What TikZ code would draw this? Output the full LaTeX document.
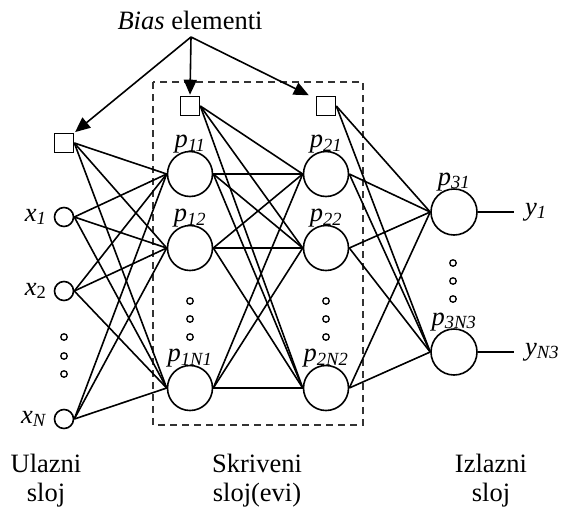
\documentclass[tikz,border=0pt]{standalone}
\usepackage{fontspec}
\setmainfont{Liberation Serif}
\usetikzlibrary{positioning,arrows.meta}

\newcommand{\lbl}[2]{\textit{#1}\textsubscript{\textit{#2}}}

\begin{document}
\begin{tikzpicture}[x=1pt,y=-1pt,
  every node/.style={font=\fontsize{26.5}{29}\selectfont},
  neuron/.style={draw,circle,line width=1.6pt,minimum size=45pt,inner sep=0pt},
  innode/.style={draw,circle,line width=1.6pt,minimum size=19pt,inner sep=0pt},
  biasbox/.style={draw,rectangle,line width=1.6pt,minimum size=19pt,inner sep=0pt},
  dotnode/.style={draw,circle,line width=1.3pt,minimum size=6.5pt,inner sep=0pt},
  link/.style={line width=1.6pt},
  pointer/.style={line width=1.6pt,shorten >=1pt,-{Triangle[length=15pt,width=13pt]}},
  txt/.style={inner sep=1pt}]
\useasboundingbox (0,0) rectangle (567,509);
% hidden layer box
\draw[black!80,line width=1.3pt,dash pattern=on 7pt off 5pt] (153,82) rectangle (363,425);
% input layer
\node[biasbox] (b0) at (64,143) {};
\node[innode] (x1) at (64,217) {};
\node[innode] (x2) at (64,291) {};
\node[innode] (xN) at (64,419) {};
% hidden layers
\node[biasbox] (b1) at (190,106) {};
\node[biasbox] (b2) at (326,106) {};
\node[neuron] (p11) at (190,174) {};
\node[neuron] (p12) at (190,248) {};
\node[neuron] (p1N1) at (190,388) {};
\node[neuron] (p21) at (326,174) {};
\node[neuron] (p22) at (326,248) {};
\node[neuron] (p2N2) at (326,388) {};
% output layer
\node[neuron,minimum size=46pt] (p31) at (454,212) {};
\node[neuron,minimum size=46pt] (p3N3) at (454,352) {};
\coordinate (y1end) at (514,212);
\coordinate (yNend) at (514,352);
% dots
\foreach \y in {337,356,374} \node[dotnode] (dx\y) at (64,\y) {};
\foreach \y in {301,319,337} {
  \node[dotnode] (dh\y) at (190,\y) {};
  \node[dotnode] (dg\y) at (326,\y) {};
}
\foreach \y in {263,281,299} \node[dotnode] (do\y) at (453,\y) {};
% labels
\node[txt,left=6pt of x1] (lx1) {\lbl{x}{1}};
\node[txt,left=6pt of x2] (lx2) {\textit{x}\textsubscript{2}};
\node[txt,left=6pt of xN] (lxN) {\lbl{x}{N}};
\foreach \n/\s in {p11/11,p12/12,p1N1/1N1,p21/21,p22/22,p2N2/2N2,p31/31,p3N3/3N3}
  \node[txt,anchor=base] (l\n) at ([yshift=3pt]\n.north) {\lbl{p}{\s}};
\node[txt,right=10pt of y1end] (ly1) {\lbl{y}{1}};
\node[txt,right=10pt of yNend] (lyN) {\lbl{y}{N3}};
% connections
\foreach \s in {b0,x1,x2,xN}
  \foreach \t in {p11,p12,p1N1}
    \draw[link] (\s.east) -- (\t.west);
\foreach \s in {b1,p11,p12,p1N1}
  \foreach \t in {p21,p22,p2N2}
    \draw[link] (\s.east) -- (\t.west);
\foreach \s in {b2,p21,p22,p2N2}
  \foreach \t in {p31,p3N3}
    \draw[link] (\s.east) -- (\t.west);
\draw[link] (p31.east) -- (y1end);
\draw[link] (p3N3.east) -- (yNend);
% bias pointers
\node[txt] (bt) at (190,20) {\textit{Bias} elementi};
\coordinate (fork) at (191,37);
\draw[pointer] (fork) -- (b0.north east);
\draw[pointer] (fork) -- (b1.north);
\draw[pointer] (fork) -- ([xshift=-6pt]b2.north west);
% layer names
\node[txt,align=center] (lin) at (46,481) {Ulazni\\sloj};
\node[txt,align=center] (lhid) at (257,481) {Skriveni\\sloj(evi)};
\node[txt,align=center] (lout) at (491,481) {Izlazni\\sloj};
\end{tikzpicture}
\end{document}
